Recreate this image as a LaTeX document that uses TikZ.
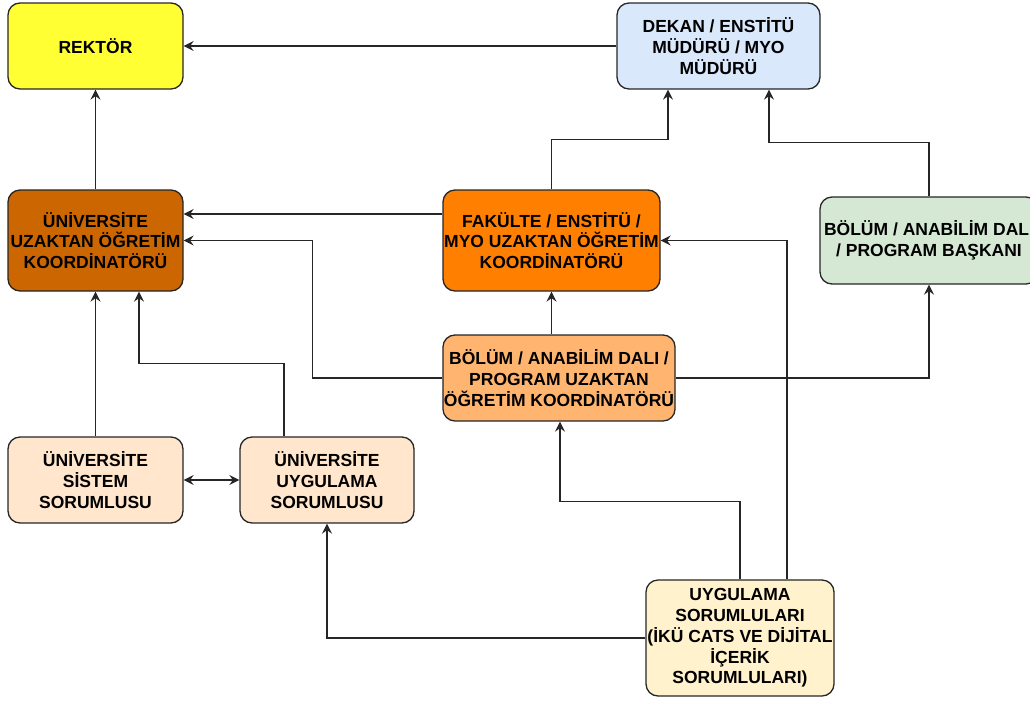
\documentclass[tikz,border=0pt]{standalone}
\usepackage{fontspec}
\setmainfont{Liberation Sans}
\usepackage{tikz}
\usetikzlibrary{arrows.meta}

\definecolor{rektorfill}{HTML}{FFFF33}
\definecolor{dekanfill}{HTML}{DAE8FC}
\definecolor{unikoordfill}{HTML}{CC6600}
\definecolor{fakkoordfill}{HTML}{FF8000}
\definecolor{baskanfill}{HTML}{D5E8D4}
\definecolor{bolkoordfill}{HTML}{FFB570}
\definecolor{sorfill}{HTML}{FFE6CC}
\definecolor{uygfill}{HTML}{FFF2CC}
\definecolor{edgegray}{HTML}{262626}

\tikzset{
  box/.style={draw=edgegray, line width=1.3pt, rounded corners=12pt, align=center,
    inner sep=1pt, font=\fontsize{17.5}{20.7}\selectfont\bfseries, text=black},
  link/.style={->, line width=1.3pt, draw=edgegray, >={Stealth[length=10pt,width=10pt,inset=3.5pt]}},
  dlink/.style={link, <->}
}

\begin{document}
\begin{tikzpicture}[x=1pt, y=-1pt]
  \useasboundingbox (0,0) rectangle (1030,702);

  \node[box, fill=rektorfill, minimum width=175pt, minimum height=86pt] (rektor) at (95.5,46) {REKTÖR};
  \node[box, fill=dekanfill, minimum width=203pt, minimum height=86pt] (dekan) at (718.5,46) {DEKAN / ENSTİTÜ\\MÜDÜRÜ / MYO\\MÜDÜRÜ};
  \node[box, fill=unikoordfill, minimum width=175pt, minimum height=101pt] (unikoord) at (95.5,240.5) {ÜNİVERSİTE\\UZAKTAN ÖĞRETİM\\KOORDİNATÖRÜ};
  \node[box, fill=fakkoordfill, minimum width=217pt, minimum height=101pt] (fakkoord) at (551.5,240.5) {FAKÜLTE / ENSTİTÜ /\\MYO UZAKTAN ÖĞRETİM\\KOORDİNATÖRÜ};
  \node[box, fill=baskanfill, minimum width=218pt, minimum height=87pt] (baskan) at (929,240.5) {BÖLÜM / ANABİLİM DALI\\/ PROGRAM BAŞKANI};
  \node[box, fill=bolkoordfill, minimum width=232pt, minimum height=86pt] (bolkoord) at (559,378) {BÖLÜM / ANABİLİM DALI /\\PROGRAM UZAKTAN\\ÖĞRETİM KOORDİNATÖRÜ};
  \node[box, fill=sorfill, minimum width=175pt, minimum height=86pt] (sistem) at (95.5,480) {ÜNİVERSİTE\\SİSTEM\\SORUMLUSU};
  \node[box, fill=sorfill, minimum width=174pt, minimum height=86pt] (uygsor) at (327,480) {ÜNİVERSİTE\\UYGULAMA\\SORUMLUSU};
  \node[box, fill=uygfill, minimum width=188pt, minimum height=116pt] (uygsorlari) at (740,638) {UYGULAMA\\SORUMLULARI\\(İKÜ CATS VE DİJİTAL\\İÇERİK\\SORUMLULARI)};

  % upward links
  \draw[link] (dekan.west) -- (rektor.east);
  \draw[link] (unikoord.north) -- (rektor.south);
  \draw[link] (fakkoord.north) -- ++(0,-50) -| ([xshift=-50.5pt]dekan.south);
  \draw[link] (baskan.north) -- ++(0,-54) -| ([xshift=50.5pt]dekan.south);
  \draw[link] ([yshift=26.5pt]fakkoord.west) -- ([yshift=26.5pt]fakkoord.west -| unikoord.east);
  \draw[link] (bolkoord.west) -- ++(-130,0) |- (unikoord.east);
  \draw[link] (bolkoord.north -| fakkoord.south) -- (fakkoord.south);
  \draw[link] (bolkoord.east) -| (baskan.south);

  % university level
  \draw[link] (sistem.north) -- (unikoord.south);
  \draw[link] ([xshift=-43pt]uygsor.north) -- ++(0,-73) -| ([xshift=43.5pt]unikoord.south);
  \draw[dlink] (sistem.east) -- (uygsor.west);

  % from the practice staff
  \draw[link] (uygsorlari.north) -- ++(0,-78) -| ([xshift=1pt]bolkoord.south);
  \draw[link] ([xshift=47pt]uygsorlari.north) |- (fakkoord.east);
  \draw[link] (uygsorlari.west) -| (uygsor.south);
\end{tikzpicture}
\end{document}
